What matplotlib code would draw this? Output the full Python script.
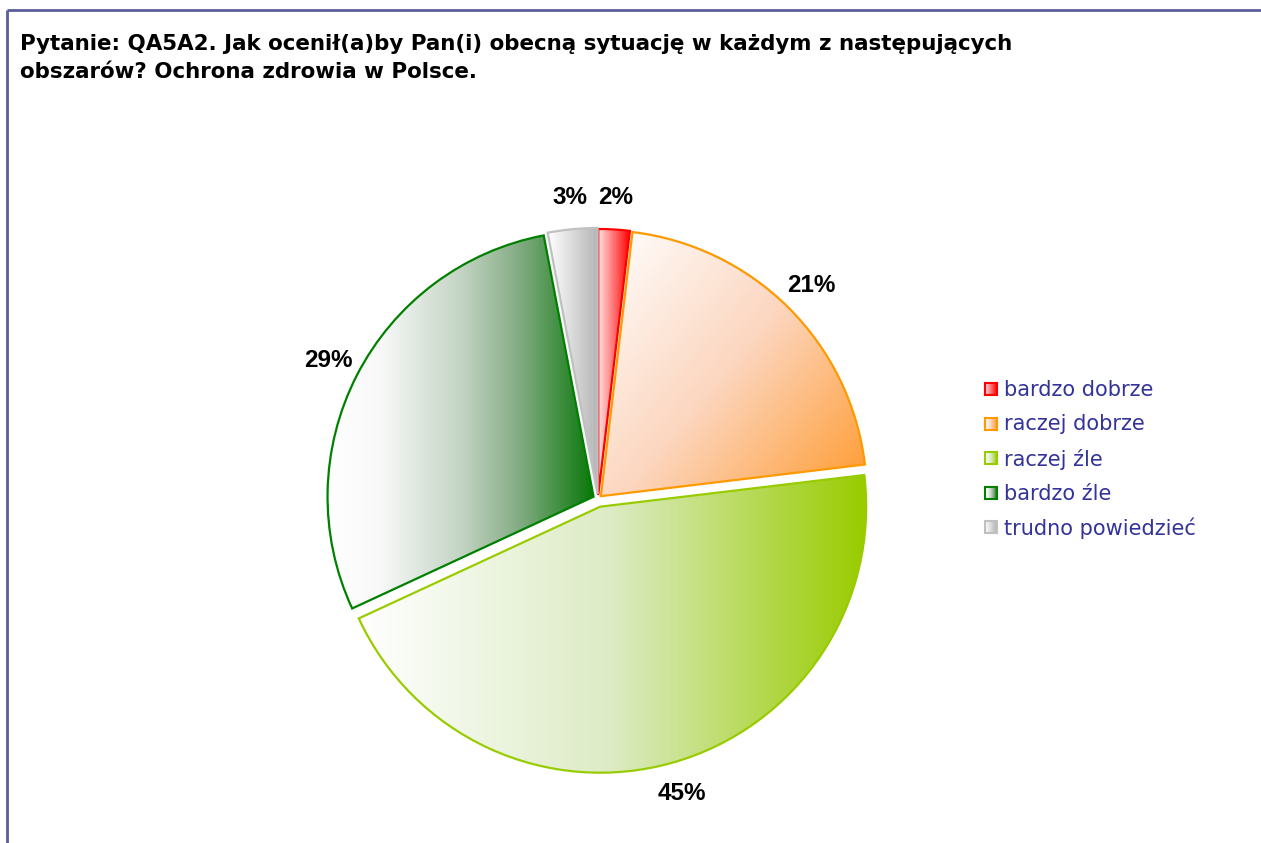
import numpy as np
import matplotlib
matplotlib.use('Agg')
import matplotlib.pyplot as plt
from matplotlib.colors import LinearSegmentedColormap
from matplotlib.patches import Rectangle

# Data
categories = ['bardzo dobrze', 'raczej dobrze', 'raczej źle', 'bardzo źle', 'trudno powiedzieć']
values = [1.9, 21.2, 45.0, 28.9, 3.0]
edge_colors = ['#ff0000', '#ff9900', '#99cc00', '#008000', '#c0c0c0']
# gradient stops (position, colour) for each slice
gradients = [
    [(0, '#ffe2e2'), (1, '#ff0000')],
    [(0, '#ffffff'), (0.5, '#fcd6bf'), (1, '#ff9a2e')],
    [(0, '#ffffff'), (0.5, '#dcebc4'), (1, '#99cc00')],
    [(0, '#ffffff'), (0.2, '#f7f8f7'), (0.5, '#c4d4c4'), (0.72, '#84ac84'), (1, '#0a780a')],
    [(0, '#ffffff'), (1, '#b4b4b4')],
]
grad_angle = [0, -40, 0, 0, 0]   # direction of gradient, degrees (0 = left->right)
explode = [4, 4, 8, 5, 5]
title = ('Pytanie: QA5A2. Jak ocenił(a)by Pan(i) obecną sytuację w każdym z następujących\n'
         'obszarów? Ochrona zdrowia w Polsce.')

W, H = 1261, 843
fig = plt.figure(figsize=(W / 100, H / 100), dpi=100)
ax = fig.add_axes([0, 0, 1, 1])

# frame lines (top and left)
ax.plot([7, W], [H - 10, H - 10], color='#5c5c9c', lw=2, solid_capstyle='butt')
ax.plot([7, 7], [H - 10, 0], color='#5c5c9c', lw=2, solid_capstyle='butt')

ax.text(20, H - 58, title, fontsize=15.4, fontweight='bold', family='DejaVu Sans',
        va='center', ha='left', linespacing=1.45)

wedges, texts, autotexts = ax.pie(
    values, explode=explode, startangle=90, counterclock=False,
    center=(598, H - 499), radius=266, autopct='%.0f%%', pctdistance=1.12,
    wedgeprops=dict(facecolor='none', linewidth=1.6),
    textprops=dict(fontsize=17.5, fontweight='bold', family='Liberation Sans', color='black'),
    frame=True)


def make_grad(angle, n=200):
    xx, yy = np.meshgrid(np.linspace(0, 1, n), np.linspace(0, 1, n))
    a = np.deg2rad(angle)
    t = xx * np.cos(a) + yy * np.sin(a)
    t = (t - t.min()) / (t.max() - t.min())
    return t


for w, stops, ec, ang in zip(wedges, gradients, edge_colors, grad_angle):
    w.set_edgecolor(ec)
    w.set_zorder(3)
    cmap = LinearSegmentedColormap.from_list('g', stops)
    bb = w.get_path().get_extents()
    im = ax.imshow(make_grad(-ang), cmap=cmap, vmin=0, vmax=1,
                   extent=(bb.x0, bb.x1, bb.y0, bb.y1),
                   aspect='auto', zorder=2, interpolation='bilinear')
    im.set_clip_path(w)

# manual legend with gradient boxes
grad = np.linspace(0, 1, 64).reshape(1, -1)
leg_x, leg_y0, leg_dy, box = 985, H - 389, 34.5, 12
for i, (lab, stops, ec) in enumerate(zip(categories, gradients, edge_colors)):
    y = leg_y0 - i * leg_dy
    cmap = LinearSegmentedColormap.from_list('g', stops)
    ax.imshow(grad, cmap=cmap, extent=(leg_x, leg_x + box, y - box / 2, y + box / 2),
              aspect='auto', zorder=2, interpolation='bilinear')
    ax.add_patch(Rectangle((leg_x, y - box / 2), box, box, facecolor='none',
                           edgecolor=ec, lw=1.5, zorder=3))
    ax.text(leg_x + 19, y - 1, lab, fontsize=15, family='DejaVu Sans', color='#333399',
            va='center', ha='left')

ax.set_xlim(0, W)
ax.set_ylim(0, H)
ax.set_aspect('auto')
ax.axis('off')
fig.savefig('out.png', dpi=100)
